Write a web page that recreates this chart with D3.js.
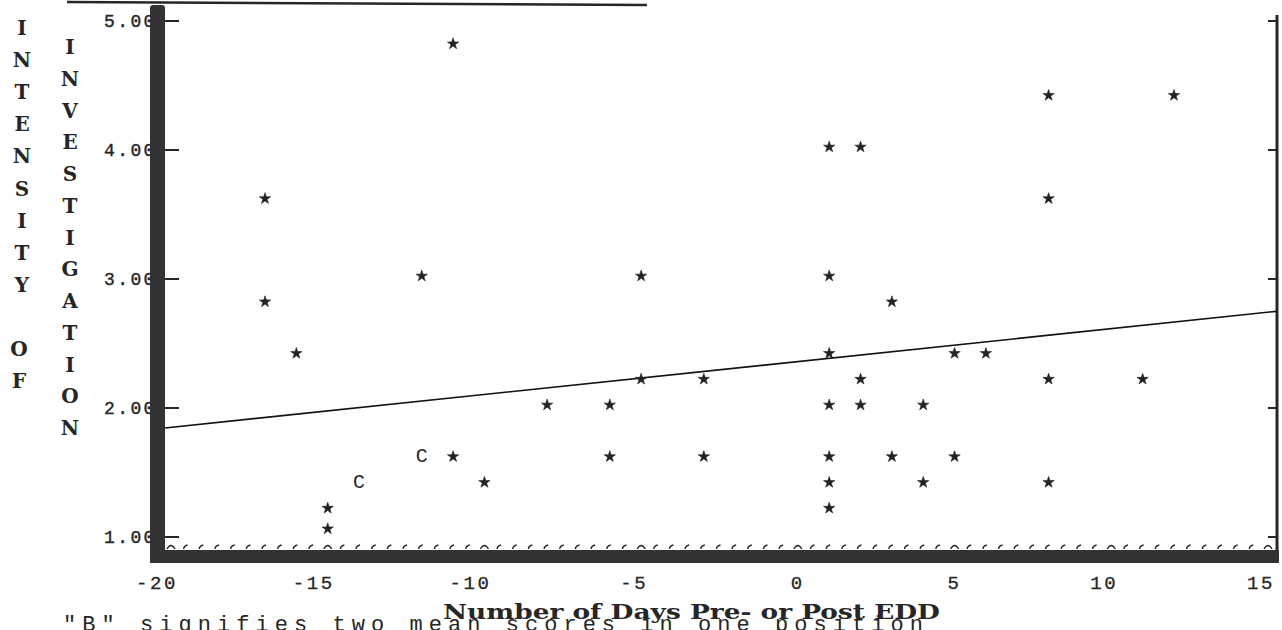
<!DOCTYPE html>
<html>
<head>
<meta charset="utf-8">
<script src="https://cdn.jsdelivr.net/npm/d3@7"></script>
<style>
body { margin: 0; background: #fff; }
svg { display: block; }
</style>
</head>
<body>
<div id="draw_board"></div>
<script>
// one star per subject: day relative to EDD, mean intensity score
var starDays   = [-17, -17, -16, -15, -15, -12, -11, -11, -10, -8, -6, -6, -5, -5, -3, -3,
                  1, 1, 1, 1, 1, 1, 1, 2, 2, 2, 3, 3, 4, 4, 5, 5, 6, 8, 8, 8, 8, 11, 12];
var starScores = [3.6, 2.8, 2.4, 1.2, 1.04, 3.0, 1.6, 4.8, 1.4, 2.0, 2.0, 1.6, 3.0, 2.2, 2.2, 1.6,
                  4.0, 3.0, 2.4, 2.0, 1.6, 1.4, 1.2, 4.0, 2.2, 2.0, 2.8, 1.6, 2.0, 1.4, 2.4, 1.6, 2.4,
                  4.4, 3.6, 2.2, 1.4, 2.2, 4.4];
// "C" marks (overlapping points)
var cDays   = [-14, -12];
var cScores = [1.4, 1.6];
// fitted line
var fitIntercept = 2.36;
var fitSlope = 0.0255;

var xTicks = [-20, -15, -10, -5, 0, 5, 10, 15];
var yTicks = [1, 2, 3, 4, 5];
var yTickLabels = ["1.00", "2.00", "3.00", "4.00", "5.00"];
var yTitleA = "INTENSITY OF";
var yTitleB = "INVESTIGATION";
var xTitle = "Number of Days Pre- or Post EDD";
var footNote = "\"B\" signifies two mean scores in one position";

var W = 1282, H = 630;
var ink = "#262626";

var svg = d3.select("#draw_board").append("svg")
    .attr("width", W)
    .attr("height", H);

var x = d3.scaleLinear().domain([-20, 15]).range([171, 1268]);
var y = d3.scaleLinear().domain([1, 5]).range([537, 21]);

var leftBar = 150, leftBarW = 15, bottomBar = 550, bottomBarH = 13, rightX = 1277;
var glyphLift = 3; // typewriter glyphs sit a bit above the value line

// underline of the (cut off) heading
svg.append("line")
    .attr("x1", 67).attr("y1", 2)
    .attr("x2", 647).attr("y2", 5)
    .attr("stroke", ink).attr("stroke-width", 2.5);

// y tick labels, partly hidden by the thick axis bar
svg.selectAll(".ylab").data(yTicks).enter().append("text")
    .attr("x", 104)
    .attr("y", function(d) { return y(d) + 6; })
    .attr("font-family", "Liberation Mono, monospace")
    .attr("font-size", 18)
    .attr("letter-spacing", 2.4)
    .attr("fill", ink)
    .attr("stroke", ink).attr("stroke-width", 0.4)
    .text(function(d, i) { return yTickLabels[i]; });

// left ticks
svg.selectAll(".ltick").data(yTicks).enter().append("line")
    .attr("x1", leftBar + leftBarW - 1).attr("x2", leftBar + leftBarW + 14)
    .attr("y1", function(d) { return y(d); })
    .attr("y2", function(d) { return y(d); })
    .attr("stroke", ink).attr("stroke-width", 2);

// right axis
svg.append("line")
    .attr("x1", rightX).attr("x2", rightX)
    .attr("y1", 15).attr("y2", bottomBar + 6)
    .attr("stroke", ink).attr("stroke-width", 3);
svg.selectAll(".rtick").data(yTicks).enter().append("line")
    .attr("x1", rightX - 9).attr("x2", rightX)
    .attr("y1", function(d) { return y(d); })
    .attr("y2", function(d) { return y(d); })
    .attr("stroke", ink).attr("stroke-width", 2);

// thick axis bars
svg.append("rect")
    .attr("x", leftBar).attr("y", 5)
    .attr("width", leftBarW).attr("height", bottomBar + bottomBarH - 5)
    .attr("rx", 3)
    .attr("fill", "#333");
svg.append("rect")
    .attr("x", leftBar).attr("y", bottomBar)
    .attr("width", W - leftBar - 3).attr("height", bottomBarH)
    .attr("fill", "#333");

// little marks sitting on the bottom bar, every half day
var halfDays = d3.range(-20, 15.01, 0.5);
svg.selectAll(".minor").data(halfDays).enter().append("path")
    .attr("d", function(d) {
        var px = x(d), py = bottomBar - 1;
        if (d % 5 === 0) return "M" + (px - 4) + "," + py + " q4,-7 8,0";
        return "M" + (px - 3) + "," + py + " q0,-3 4,-4";
    })
    .attr("fill", "none")
    .attr("stroke", ink).attr("stroke-width", 1.4);

// x tick labels
svg.selectAll(".xlab").data(xTicks).enter().append("text")
    .attr("x", function(d) { return x(d) + 7; })
    .attr("y", 589)
    .attr("text-anchor", "end")
    .attr("font-family", "Liberation Mono, monospace")
    .attr("font-size", 19)
    .attr("letter-spacing", 2.6)
    .attr("fill", ink)
    .attr("stroke", ink).attr("stroke-width", 0.3)
    .text(function(d) { return d < 0 ? "-" + Math.abs(d) : String(d); });

// fitted line, clipped to the plot frame
var fx0 = x.invert(leftBar + leftBarW), fx1 = x.invert(rightX - 1);
svg.append("line")
    .attr("x1", x(fx0)).attr("y1", y(fitIntercept + fitSlope * fx0))
    .attr("x2", x(fx1)).attr("y2", y(fitIntercept + fitSlope * fx1))
    .attr("stroke", "#111").attr("stroke-width", 1.6);

// stars
var star = d3.symbol().type(d3.symbolStar).size(40);
svg.selectAll(".pt").data(starDays).enter().append("path")
    .attr("d", star)
    .attr("transform", function(d, i) {
        return "translate(" + x(d) + "," + (y(starScores[i]) - glyphLift) + ")";
    })
    .attr("fill", "#222")
    .attr("stroke", "#222").attr("stroke-width", 0.6);

// C marks
svg.selectAll(".cpt").data(cDays).enter().append("text")
    .attr("x", function(d) { return x(d); })
    .attr("y", function(d, i) { return y(cScores[i]) - glyphLift; })
    .attr("text-anchor", "middle")
    .attr("dominant-baseline", "central")
    .attr("font-family", "Liberation Mono, monospace")
    .attr("font-size", 20)
    .attr("fill", ink)
    .text("C");

// vertical y titles, one letter per line
svg.selectAll(".ta").data(yTitleA.split("")).enter().append("text")
    .attr("x", function(d, i) { return i > 9 ? 19 : 22; })
    .attr("y", function(d, i) { return 28 + i * 32.1; })
    .attr("text-anchor", "middle")
    .attr("dominant-baseline", "central")
    .attr("font-family", "DejaVu Serif, serif")
    .attr("font-weight", "bold")
    .attr("font-size", 20)
    .attr("fill", ink)
    .text(function(d) { return d; });
svg.selectAll(".tb").data(yTitleB.split("")).enter().append("text")
    .attr("x", 70)
    .attr("y", function(d, i) { return 47 + i * 31.75; })
    .attr("text-anchor", "middle")
    .attr("dominant-baseline", "central")
    .attr("font-family", "DejaVu Serif, serif")
    .attr("font-weight", "bold")
    .attr("font-size", 20)
    .attr("fill", ink)
    .text(function(d) { return d; });

// x title
svg.append("text")
    .attr("x", 443).attr("y", 619)
    .attr("font-family", "DejaVu Serif, serif")
    .attr("font-weight", "bold")
    .attr("font-size", 20)
    .attr("textLength", 497)
    .attr("lengthAdjust", "spacingAndGlyphs")
    .attr("fill", ink)
    .text(xTitle);

// foot note, mostly below the page edge
svg.append("text")
    .attr("x", 63).attr("y", 631)
    .attr("font-family", "Liberation Mono, monospace")
    .attr("font-size", 22)
    .attr("textLength", 860)
    .attr("lengthAdjust", "spacing")
    .attr("fill", ink)
    .text(footNote);
</script>
</body>
</html>
